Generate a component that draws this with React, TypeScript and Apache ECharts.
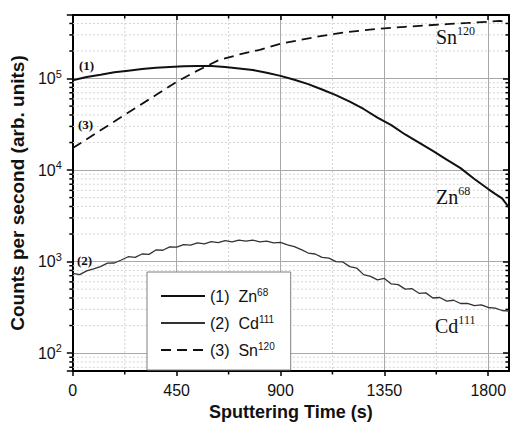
import React, { useEffect, useRef } from 'react';
import * as echarts from 'echarts';

// ---- data ----
const timeZn = [0, 60, 120, 180, 240, 300, 360, 420, 480, 540, 600, 660, 720, 780, 840, 900, 960, 1020, 1080, 1140, 1200, 1260, 1320, 1380, 1440, 1500, 1560, 1620, 1680, 1740, 1800, 1830, 1860, 1890];
const valZn = [96000, 104000, 110000, 117000, 122000, 127000, 131000, 134000, 136000, 137500, 137000, 134000, 129000, 124000, 116000, 107000, 97000, 87000, 76000, 66000, 56000, 46500, 37500, 31000, 24500, 20000, 16200, 13000, 10500, 8000, 6200, 5500, 4900, 3900];

const timeCd = [0, 30, 60, 90, 120, 150, 180, 210, 240, 270, 300, 330, 360, 390, 420, 450, 480, 510, 540, 570, 600, 630, 660, 690, 720, 750, 780, 810, 840, 870, 900, 930, 960, 990, 1020, 1050, 1080, 1110, 1140, 1170, 1200, 1230, 1260, 1290, 1320, 1350, 1380, 1410, 1440, 1470, 1500, 1530, 1560, 1590, 1620, 1650, 1680, 1710, 1740, 1770, 1800, 1830, 1860, 1890];
const valCd = [745, 720, 790, 830, 880, 960, 965, 1040, 1130, 1110, 1210, 1200, 1340, 1330, 1450, 1440, 1530, 1510, 1600, 1560, 1650, 1610, 1690, 1640, 1720, 1670, 1720, 1640, 1670, 1600, 1620, 1520, 1460, 1350, 1240, 1210, 1110, 1090, 1000, 990, 880, 850, 720, 690, 630, 655, 570, 560, 500, 505, 450, 455, 400, 405, 370, 378, 348, 350, 330, 336, 315, 310, 292, 288];

const timeSn = [0, 90, 180, 270, 360, 450, 540, 630, 720, 810, 900, 990, 1080, 1170, 1260, 1350, 1440, 1530, 1620, 1710, 1800, 1850, 1890];
const valSn = [17400, 24300, 34000, 47500, 66000, 92000, 122000, 158000, 183000, 206000, 240000, 266000, 293000, 318000, 337000, 354000, 368000, 381000, 393000, 405000, 418000, 428000, 405000];

const seriesNames = ['Zn68', 'Cd111', 'Sn120'];
const legendLabels = ['(1)  Zn{s|68}', '(2)  Cd{s|111}', '(3)  Sn{s|120}'];

const xTicks = [0, 450, 900, 1350, 1800];
const xMinor = [225, 675, 1125, 1575];
const yMinor = [70, 80, 90, 200, 300, 400, 500, 600, 700, 800, 900, 2000, 3000, 4000, 5000, 6000, 7000, 8000, 9000, 20000, 30000, 40000, 50000, 60000, 70000, 80000, 90000, 200000, 300000, 400000];

const X_MIN = 0;
const X_MAX = 1890;
const Y_MIN = 63.7;
const Y_MAX = 495000;

const SANS = 'Liberation Sans';
const SERIF = 'Liberation Serif';
const TXT = '#111';

const pair = (t: number[], v: number[]) => t.map((x, i) => [x, v[i]]);

function yLabel(v: number) {
  const e = Math.log10(v);
  const r = Math.round(e);
  if (Math.abs(e - r) < 1e-6) return `{b|10}{s|${r}}`;
  return '';
}

export default function App() {
  const ref = useRef<HTMLDivElement>(null);
  useEffect(() => {
    const chart = echarts.init(ref.current!, null, { renderer: 'svg' });
    const axisLine = { show: true, onZero: false, lineStyle: { color: '#000', width: 2 } };
    const tickStyle = { color: '#000', width: 1.5 };
    const option: any = {
      animation: false,
      backgroundColor: '#fff',
      grid: { left: 69, right: 3, top: 15, bottom: 54 },
      legend: {
        data: seriesNames,
        orient: 'vertical',
        left: 147,
        top: 272,
        itemWidth: 44,
        itemHeight: 14,
        itemGap: 10,
        padding: [15, 16, 12, 13],
        backgroundColor: '#fff',
        borderColor: '#808080',
        borderWidth: 1,
        borderRadius: 0,
        selectedMode: false,
        z: 20,
        itemStyle: { opacity: 0, color: 'rgba(0,0,0,0)', borderColor: 'rgba(0,0,0,0)', borderWidth: 0 },
        formatter: (n: string) => legendLabels[seriesNames.indexOf(n)],
        textStyle: {
          fontSize: 16,
          fontFamily: SANS,
          color: TXT,
          rich: {
            s: { fontSize: 10, fontFamily: SANS, color: TXT, padding: [0, 0, 8, 0] },
          },
        },
      },
      xAxis: [
        {
          type: 'value',
          position: 'bottom',
          min: X_MIN,
          max: X_MAX,
          interval: 450,
          axisLine,
          axisTick: { show: true, inside: false, length: 5, lineStyle: tickStyle },
          axisLabel: {
            margin: 11,
            fontSize: 16,
            fontFamily: SANS,
            color: TXT,
            showMaxLabel: false,
            formatter: (v: number) => (xTicks.includes(v) ? String(v) : ''),
          },
          splitLine: { show: true, lineStyle: { color: '#a8a8a8', width: 1 } },
          name: 'Sputtering Time (s)',
          nameLocation: 'middle',
          nameGap: 32,
          nameTextStyle: { fontSize: 18, fontWeight: 'bold', fontFamily: SANS, color: TXT },
        },
        {
          type: 'value',
          position: 'top',
          min: X_MIN,
          max: X_MAX,
          interval: 450,
          axisLine,
          axisTick: { show: true, inside: true, length: 5, lineStyle: tickStyle },
          axisLabel: { show: false },
          splitLine: { show: false },
        },
      ],
      yAxis: [
        {
          type: 'log',
          logBase: 10,
          position: 'left',
          min: Y_MIN,
          max: Y_MAX,
          axisLine,
          axisTick: { show: true, inside: false, length: 6, lineStyle: tickStyle },
          axisLabel: {
            margin: 11,
            formatter: yLabel,
            rich: {
              b: { fontSize: 16, fontFamily: SANS, color: TXT },
              s: { fontSize: 11, fontFamily: SANS, color: TXT, padding: [0, 0, 10, 0] },
            },
          },
          splitLine: { show: true, lineStyle: { color: '#a8a8a8', width: 1 } },
          name: 'Counts per second (arb. units)',
          nameLocation: 'middle',
          nameGap: 40,
          nameTextStyle: { fontSize: 19, fontWeight: 'bold', fontFamily: SANS, color: TXT },
        },
        {
          type: 'log',
          logBase: 10,
          position: 'right',
          min: Y_MIN,
          max: Y_MAX,
          axisLine,
          axisTick: { show: true, inside: true, length: 6, lineStyle: tickStyle },
          axisLabel: { show: false },
          splitLine: { show: false },
        },
      ],
      series: [
        {
          name: 'yMinor',
          type: 'custom',
          silent: true,
          z: 1,
          xAxisIndex: 0,
          yAxisIndex: 0,
          data: yMinor.map((v) => [X_MIN, v]),
          renderItem: (params: any, api: any) => {
            const cs = params.coordSys;
            const y = api.coord([X_MIN, api.value(1)])[1];
            return {
              type: 'group',
              children: [
                { type: 'line', shape: { x1: cs.x, y1: y, x2: cs.x + cs.width, y2: y }, style: { stroke: '#d4d4d4', lineWidth: 1, lineDash: [2, 2] } },
                { type: 'line', shape: { x1: cs.x - 3.5, y1: y, x2: cs.x, y2: y }, style: { stroke: '#000', lineWidth: 1.5 } },
                { type: 'line', shape: { x1: cs.x + cs.width - 3.5, y1: y, x2: cs.x + cs.width, y2: y }, style: { stroke: '#000', lineWidth: 1.5 } },
              ],
            };
          },
        },
        {
          name: 'xMinor',
          type: 'custom',
          silent: true,
          z: 1,
          xAxisIndex: 0,
          yAxisIndex: 0,
          data: xMinor.map((t) => [t, Y_MAX]),
          renderItem: (params: any, api: any) => {
            const cs = params.coordSys;
            const x = api.coord([api.value(0), Y_MAX])[0];
            return {
              type: 'group',
              children: [
                { type: 'line', shape: { x1: x, y1: cs.y, x2: x, y2: cs.y + cs.height }, style: { stroke: '#d4d4d4', lineWidth: 1, lineDash: [2, 2] } },
                { type: 'line', shape: { x1: x, y1: cs.y + cs.height, x2: x, y2: cs.y + cs.height + 3.5 }, style: { stroke: '#000', lineWidth: 1.5 } },
                { type: 'line', shape: { x1: x, y1: cs.y, x2: x, y2: cs.y + 3.5 }, style: { stroke: '#000', lineWidth: 1.5 } },
              ],
            };
          },
        },
        {
          name: 'Zn68',
          type: 'line',
          data: pair(timeZn, valZn),
          symbol: 'none',
          showSymbol: false,
          z: 5,
          itemStyle: { color: '#111' },
          lineStyle: { color: '#111', width: 2 },
        },
        {
          name: 'Cd111',
          type: 'line',
          data: pair(timeCd, valCd),
          symbol: 'none',
          showSymbol: false,
          z: 5,
          itemStyle: { color: '#333' },
          lineStyle: { color: '#333', width: 1.3 },
        },
        {
          name: 'Sn120',
          type: 'line',
          data: pair(timeSn, valSn),
          symbol: 'none',
          showSymbol: false,
          z: 5,
          itemStyle: { color: '#111' },
          lineStyle: { color: '#111', width: 1.8, type: [10, 6] },
        },
      ],
      graphic: [
        { type: 'text', x: 79, y: 58.5, z: 30, style: { text: '(1)', font: `bold 13px "${SERIF}"`, fill: TXT, align: 'left', verticalAlign: 'top' } },
        { type: 'text', x: 78, y: 117.5, z: 30, style: { text: '(3)', font: `bold 13px "${SERIF}"`, fill: TXT, align: 'left', verticalAlign: 'top' } },
        { type: 'text', x: 77, y: 254, z: 30, style: { text: '(2)', font: `bold 13px "${SERIF}"`, fill: TXT, align: 'left', verticalAlign: 'top' } },
        {
          type: 'text', x: 436, y: 25, z: 30,
          style: {
            text: '{m|Sn}{s|120}', align: 'left', verticalAlign: 'top',
            rich: { m: { fontSize: 20, fontFamily: SERIF, fill: TXT }, s: { fontSize: 12, fontFamily: SERIF, fill: TXT, padding: [0, 0, 12, 0] } },
          },
        },
        {
          type: 'text', x: 436, y: 185, z: 30,
          style: {
            text: '{m|Zn}{s|68}', align: 'left', verticalAlign: 'top',
            rich: { m: { fontSize: 20, fontFamily: SERIF, fill: TXT }, s: { fontSize: 12, fontFamily: SERIF, fill: TXT, padding: [0, 0, 12, 0] } },
          },
        },
        {
          type: 'text', x: 435, y: 314, z: 30,
          style: {
            text: '{m|Cd}{s|111}', align: 'left', verticalAlign: 'top',
            rich: { m: { fontSize: 20, fontFamily: SERIF, fill: TXT }, s: { fontSize: 12, fontFamily: SERIF, fill: TXT, padding: [0, 0, 12, 0] } },
          },
        },
      ],
    };
    chart.setOption(option);
    return () => chart.dispose();
  }, []);
  return <div ref={ref} style={{ position: 'absolute', left: 0, top: 0, width: 512, height: 426 }} />;
}
